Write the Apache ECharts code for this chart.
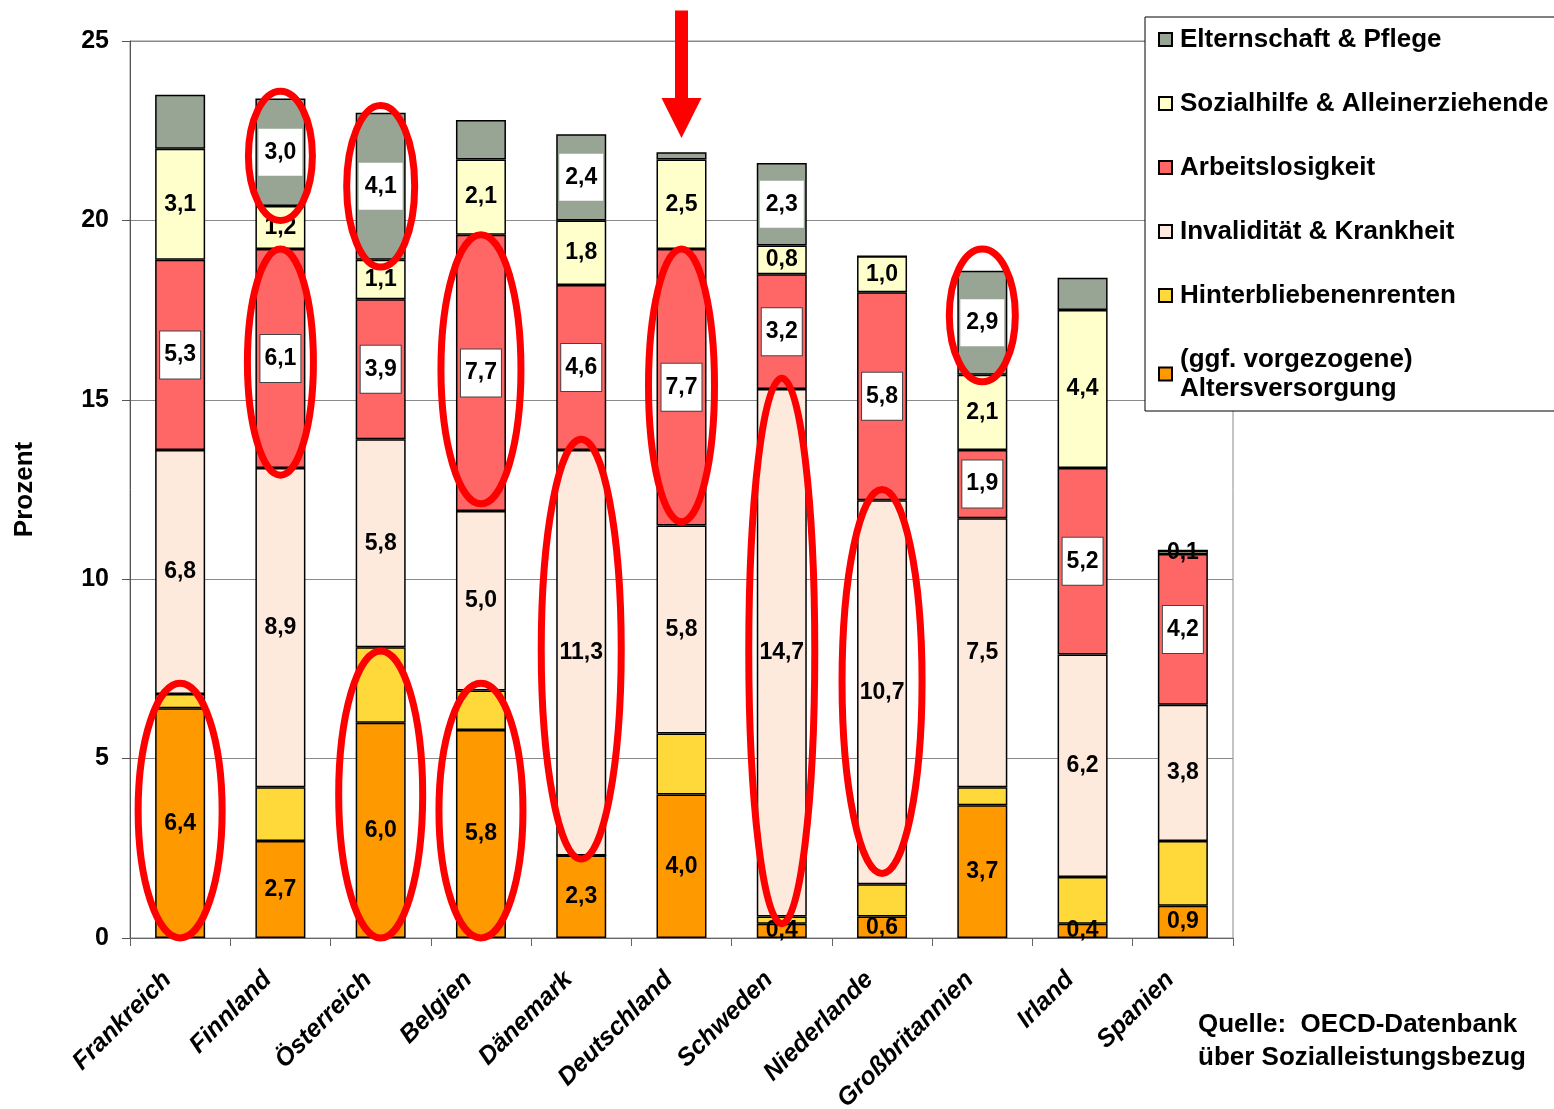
<!DOCTYPE html>
<html>
<head>
<meta charset="utf-8">
<title>Sozialleistungsbezug nach Ländern</title>
<script src="https://cdn.jsdelivr.net/npm/echarts@6/dist/echarts.min.js"></script>
<style>
  html, body { margin: 0; padding: 0; background: #fff; }
  #chart { width: 1554px; height: 1109px; }
</style>
</head>
<body>
<div id="chart"></div>
<script>
// Länder (Kategorien der x-Achse)
const countries = ['Frankreich', 'Finnland', 'Österreich', 'Belgien', 'Dänemark', 'Deutschland',
                   'Schweden', 'Niederlande', 'Großbritannien', 'Irland', 'Spanien'];

// Anteile in Prozent, von unten nach oben gestapelt
const altersversorgung   = [6.4, 2.7, 6.0, 5.8, 2.3, 4.0, 0.4, 0.6, 3.7, 0.4, 0.9];
const hinterbliebenen    = [0.4, 1.5, 2.1, 1.1, 0.0, 1.7, 0.2, 0.9, 0.5, 1.3, 1.8];
const invaliditaet       = [6.8, 8.9, 5.8, 5.0, 11.3, 5.8, 14.7, 10.7, 7.5, 6.2, 3.8];
const arbeitslosigkeit   = [5.3, 6.1, 3.9, 7.7, 4.6, 7.7, 3.2, 5.8, 1.9, 5.2, 4.2];
const sozialhilfe        = [3.1, 1.2, 1.1, 2.1, 1.8, 2.5, 0.8, 1.0, 2.1, 4.4, 0.1];
const elternschaft       = [1.5, 3.0, 4.1, 1.1, 2.4, 0.2, 2.3, 0.0, 2.9, 0.9, 0.0];

// Welche Segmente der Elternschaft-Reihe beschriftet sind
const elternLabelShown   = [false, true, true, false, true, false, true, false, true, false, false];

// Achsenteilung
const yTicks = { min: 0, max: 25, interval: 5 };

// Hervorhebungen (Land, von Wert, bis Wert, halbe Breite in px)
const highlights = [
  ['Frankreich',     0.0,  7.1, 42],
  ['Finnland',      20.0, 23.6, 32],
  ['Finnland',      12.9, 19.2, 33],
  ['Österreich',    18.7, 23.2, 34],
  ['Österreich',     0.0,  8.0, 42],
  ['Belgien',       12.1, 19.6, 40],
  ['Belgien',        0.0,  7.1, 42],
  ['Dänemark',       2.2, 13.9, 40],
  ['Deutschland',   11.6, 19.2, 33],
  ['Schweden',       0.4, 15.6, 33],
  ['Niederlande',    1.8, 12.5, 40],
  ['Großbritannien',15.5, 19.2, 33]
];

// Pfeil über Deutschland (Land, Startwert oben, Spitze)
const arrow = ['Deutschland', 25.85, 22.3];

const FONT = 'Arial, "Liberation Sans", sans-serif';
const fmt = v => v.toFixed(1).replace('.', ',');

const plainLabel = {
  show: true, position: 'inside', color: '#000', fontFamily: FONT,
  fontWeight: 'bold', fontSize: 23, textBorderWidth: 0,
  formatter: p => fmt(p.value)
};

function barSeries(name, values, color, label, mask) {
  return {
    name, type: 'bar', stack: 'total', barWidth: 50,
    itemStyle: { color, borderColor: '#000', borderWidth: 1.5 },
    label: label || { show: false },
    labelLayout: { hideOverlap: false },
    emphasis: { disabled: true },
    data: values.map((v, i) => mask ? { value: v, label: { show: mask[i] } } : v)
  };
}

const boxedArbeit = Object.assign({}, plainLabel, {
  backgroundColor: '#fff', borderColor: '#444', borderWidth: 1, padding: [12, 4]
});
const boxedEltern = Object.assign({}, plainLabel, {
  backgroundColor: '#fff', padding: [12, 6]
});

const legendOrder = ['Elternschaft & Pflege', 'Sozialhilfe & Alleinerziehende', 'Arbeitslosigkeit',
  'Invalidität & Krankheit', 'Hinterbliebenenrenten', '(ggf. vorgezogene) Altersversorgung'];

const chart = echarts.init(document.getElementById('chart'), null, { renderer: 'canvas' });

chart.setOption({
  animation: false,
  backgroundColor: '#fff',
  grid: {
    left: 130, right: 321, top: 41, bottom: 171,
    containLabel: false, outerBoundsMode: 'none',
    show: true, borderColor: '#8a8a8a', borderWidth: 1, backgroundColor: 'transparent'
  },
  legend: {
    orient: 'vertical', left: 1145, top: 17,
    padding: [8, 80, 8, 13],
    backgroundColor: '#fff', borderColor: '#000', borderWidth: 1,
    itemWidth: 13, itemHeight: 13, itemGap: 35,
    icon: 'rect',
    data: legendOrder,
    formatter: n => n === '(ggf. vorgezogene) Altersversorgung' ? '(ggf. vorgezogene)\nAltersversorgung' : n,
    textStyle: { fontFamily: FONT, fontWeight: 'bold', fontSize: 26, color: '#000', lineHeight: 29, padding: [0, 0, 0, 3] },
    selectedMode: false
  },
  xAxis: {
    type: 'category', data: countries,
    axisLine: { lineStyle: { color: '#666', width: 1 } },
    axisTick: { show: true, length: 8, lineStyle: { color: '#666' } },
    axisLabel: {
      interval: 0, rotate: 45, margin: 25, padding: [0, 18, 0, 0], color: '#000',
      fontFamily: FONT, fontWeight: 'bold', fontStyle: 'italic', fontSize: 25
    },
    splitLine: { show: false }
  },
  yAxis: {
    type: 'value', min: yTicks.min, max: yTicks.max, interval: yTicks.interval,
    name: 'Prozent', nameLocation: 'middle', nameGap: 92, nameRotate: 90,
    nameTextStyle: { fontFamily: FONT, fontWeight: 'bold', fontSize: 26, color: '#000' },
    axisLine: { show: true, lineStyle: { color: '#555', width: 1 } },
    axisTick: { show: true, length: 8, lineStyle: { color: '#555' } },
    axisLabel: { margin: 21, color: '#000', fontFamily: FONT, fontWeight: 'bold', fontSize: 25 },
    splitLine: { show: true, lineStyle: { color: '#8a8a8a', width: 1 } }
  },
  series: [
    barSeries('(ggf. vorgezogene) Altersversorgung', altersversorgung, '#FF9900', plainLabel),
    barSeries('Hinterbliebenenrenten', hinterbliebenen, '#FFD93A'),
    barSeries('Invalidität & Krankheit', invaliditaet, '#FDEADC', plainLabel),
    barSeries('Arbeitslosigkeit', arbeitslosigkeit, '#FF6666', boxedArbeit),
    barSeries('Sozialhilfe & Alleinerziehende', sozialhilfe, '#FFFFCC', plainLabel),
    barSeries('Elternschaft & Pflege', elternschaft, '#99A594', boxedEltern, elternLabelShown)
  ]
});

// Ellipsen und Pfeil werden über die Achsen in Pixel umgerechnet
const toPx = (cat, val) => chart.convertToPixel({ gridIndex: 0 }, [countries.indexOf(cat), val]);

const overlay = [{
  id: 'quelle', type: 'text', left: 1198, top: 1008, z: 10,
  style: {
    text: 'Quelle:  OECD-Datenbank\nüber Sozialleistungsbezug',
    fontFamily: FONT, fontWeight: 'bold', fontSize: 26, lineHeight: 33, fill: '#000'
  }
}];

highlights.forEach(([cat, from, to, rx], i) => {
  const a = toPx(cat, from), b = toPx(cat, to);
  overlay.push({
    id: 'ellipse' + i, type: 'ellipse', z: 100, silent: true,
    shape: { cx: a[0], cy: (a[1] + b[1]) / 2, rx, ry: Math.abs(a[1] - b[1]) / 2 },
    style: { fill: 'none', stroke: '#FF0000', lineWidth: 7 }
  });
});

const arrowStart = toPx(arrow[0], arrow[1]), arrowTip = toPx(arrow[0], arrow[2]);
const ax = arrowStart[0], headLen = 40, shaftHalf = 6.5, headHalf = 20;
overlay.push({
  id: 'pfeil', type: 'polygon', z: 100, silent: true,
  shape: { points: [
    [ax - shaftHalf, arrowStart[1]], [ax + shaftHalf, arrowStart[1]],
    [ax + shaftHalf, arrowTip[1] - headLen], [ax + headHalf, arrowTip[1] - headLen],
    [ax, arrowTip[1]],
    [ax - headHalf, arrowTip[1] - headLen], [ax - shaftHalf, arrowTip[1] - headLen]
  ] },
  style: { fill: '#FF0000', stroke: 'none' }
});

chart.setOption({ graphic: overlay });
</script>
</body>
</html>
